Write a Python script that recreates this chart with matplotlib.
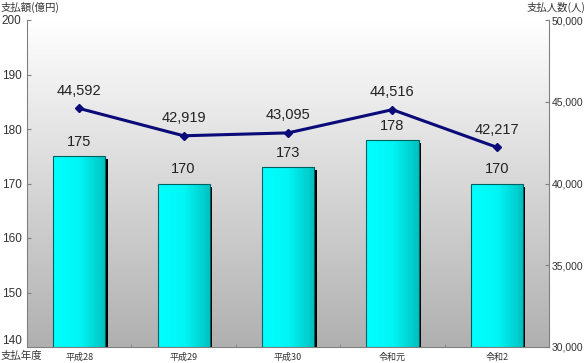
import numpy as np
import matplotlib
matplotlib.use("Agg")
import matplotlib.pyplot as plt
from matplotlib.colors import LinearSegmentedColormap

plt.rcParams['font.family'] = ['Noto Sans CJK JP', 'DejaVu Sans']

categories = ["平成28", "平成29", "平成30", "令和元", "令和2"]
amounts = [175, 170, 173, 178, 170]          # 支払額(億円)
persons = [44592, 42919, 43095, 44516, 42217]  # 支払人数(人)
left_ticks = [140, 150, 160, 170, 180, 190, 200]
right_ticks = [30000, 35000, 40000, 45000, 50000]

fig = plt.figure(figsize=(5.87, 3.63), dpi=100)
ax = fig.add_axes([27/587, 16/363, (549-27)/587, (347-20)/363])
ax.set_xlim(-0.5, len(categories) - 0.5)
ax.set_ylim(140, 200)

# background gradient
bg = LinearSegmentedColormap.from_list("bg", ["#b0b0b0", "#ffffff"])
grad = np.linspace(0, 1, 256).reshape(-1, 1)
ax.imshow(grad, cmap=bg, aspect='auto', origin='lower',
          extent=[-0.5, len(categories) - 0.5, 140, 200], zorder=0)

barcm = LinearSegmentedColormap.from_list("bar", ["#00ffff", "#00f6f6", "#00c0c0"])
hgrad = np.linspace(0, 1, 256).reshape(1, -1)
x = np.arange(len(categories))
w = 0.5
dx = 2.5 / 104.4
dy = 3 / 327 * 60
for xi, v in zip(x, amounts):
    # shadow
    ax.bar(xi + dx, v - 140 - dy, bottom=140, width=w, color='black', zorder=2)
    b = ax.bar(xi, v - 140, bottom=140, width=w, facecolor='none',
               edgecolor='#006060', linewidth=0.8, zorder=4)[0]
    im = ax.imshow(hgrad, cmap=barcm, aspect='auto',
                   extent=[xi - w/2, xi + w/2, 140, v], zorder=3)
    im.set_clip_path(b)
    ax.text(xi, v + 1.3, f"{v}", ha='center', va='bottom', fontsize=10.5,
            family='Liberation Sans', color='#222222', zorder=6)

ax.set_xticks(x)
ax.set_xticklabels(categories, fontsize=6.5, color='#333333')
ax.set_xticks(np.arange(0.5, len(categories) - 1, 1), minor=True)
ax.set_yticks(left_ticks)
ax.set_yticklabels([str(t) for t in left_ticks], fontsize=8.5, family='Liberation Sans', color='#333333')
ax.get_yticklabels()[0].set_va('bottom')
ax.tick_params(axis='y', direction='in', length=3, color='#808080', pad=4)
ax.tick_params(axis='x', which='major', length=0, pad=4)
ax.tick_params(axis='x', which='minor', direction='in', length=2, color='#808080')
for s in ['left', 'bottom']:
    ax.spines[s].set_color('#808080')
ax.spines['top'].set_visible(False)
ax.spines['right'].set_visible(False)

ax2 = ax.twinx()
ax2.set_ylim(30000, 50000)
ax2.plot(x, persons, color='#0a0a78', linewidth=2.2, marker='D', markersize=4, zorder=5)
for xi, p in zip(x, persons):
    ax2.text(xi, p + 650, f"{p:,}", ha='center', va='bottom', fontsize=10.5,
             family='Liberation Sans', color='#222222')
ax2.set_yticks(right_ticks)
ax2.set_yticklabels([f"{t:,}" for t in right_ticks], fontsize=7.5, family='Liberation Sans', color='#333333')
ax2.tick_params(axis='y', direction='in', length=3, color='#808080', pad=2)
ax2.spines['right'].set_color('#808080')
ax2.spines['top'].set_visible(False)
ax2.spines['left'].set_visible(False)
ax2.spines['bottom'].set_visible(False)

fig.text(1/587, 1 - 7/363, "支払額(億円)", fontsize=7.5, va='center', ha='left', color='#333333')
fig.text(585/587, 1 - 7/363, "支払人数(人)", fontsize=7.5, va='center', ha='right', color='#333333')
fig.text(1/587, 1 - 356/363, "支払年度", fontsize=7.5, va='center', ha='left', color='#333333')

fig.savefig("out.png", dpi=100)
